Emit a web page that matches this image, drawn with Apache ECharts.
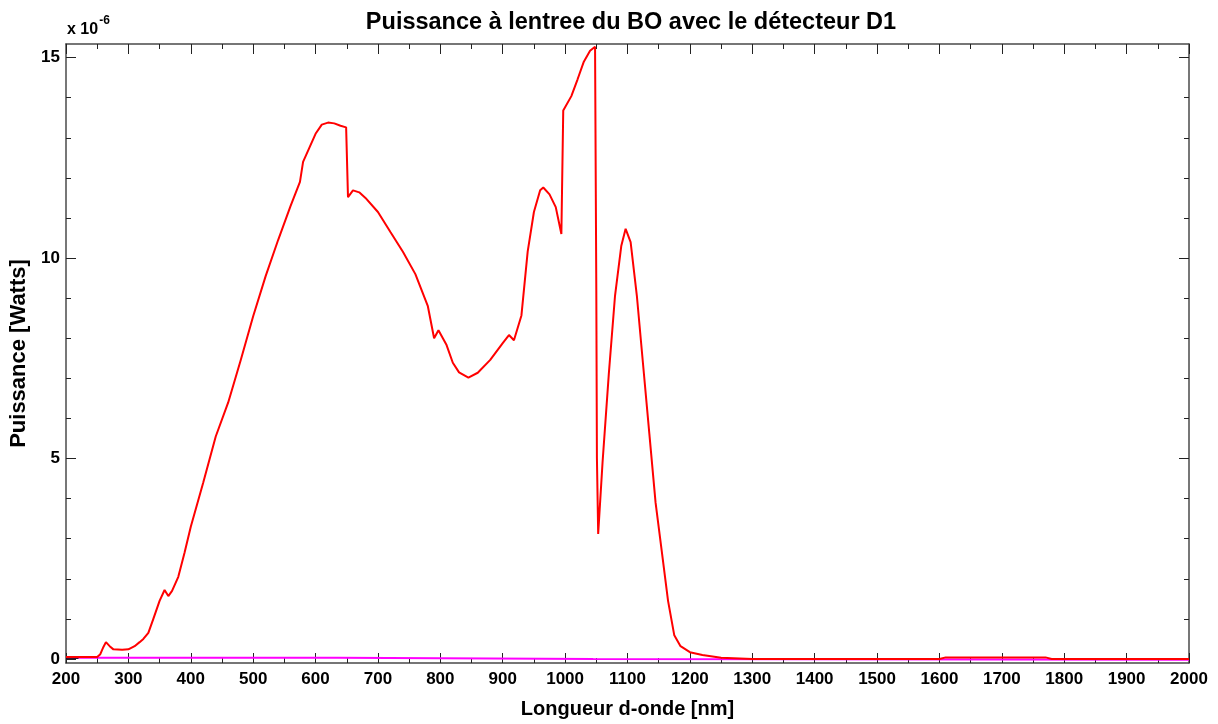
<!DOCTYPE html>
<html><head><meta charset="utf-8">
<script src="https://cdn.jsdelivr.net/npm/echarts@6/dist/echarts.min.js"></script>
<style>html,body{margin:0;padding:0;background:#fff}#c{width:1218px;height:724px}</style>
</head><body><div id="c"></div>
<script>
// Wavelength [nm] and power [x 1e-6 W], red curve (D1)
const redWl = [200,250,255,260,264,270,276,290,300,310,318,324,332,340,350,358,364,370,380,390,400,420,440,460,480,500,520,540,560,575,580,590,600,610,620,630,640,649,652,660,670,680,700,720,740,760,780,790,797,810,820,830,845,860,880,900,910,918,930,940,950,960,965,975,985,994,997,1000,1010,1020,1030,1040,1048,1049,1050,1051,1053,1060,1070,1080,1090,1097,1105,1115,1125,1135,1145,1155,1165,1175,1185,1200,1220,1250,1300,1400,1500,1600,1610,1700,1770,1780,1900,2000];
const redP  = [0.05,0.05,0.12,0.3,0.42,0.32,0.24,0.23,0.24,0.32,0.42,0.5,0.65,1.0,1.45,1.72,1.57,1.7,2.05,2.65,3.3,4.4,5.55,6.4,7.45,8.55,9.55,10.45,11.3,11.9,12.4,12.75,13.1,13.33,13.38,13.36,13.3,13.26,11.52,11.69,11.64,11.5,11.15,10.65,10.16,9.6,8.8,8.0,8.2,7.83,7.39,7.15,7.02,7.14,7.46,7.88,8.08,7.95,8.57,10.16,11.15,11.69,11.76,11.59,11.27,10.6,13.68,13.72,14.04,14.46,14.9,15.17,15.27,15.25,9.2,5.0,3.12,4.9,7.1,9.06,10.3,10.73,10.4,9.06,7.34,5.62,3.9,2.68,1.45,0.59,0.32,0.17,0.1,0.03,0.0,0.0,0.0,0.0,0.04,0.04,0.04,0.0,0.0,0.0];
// Magenta curve
const magWl = [200,635,635,1045,1045,2000];
const magP  = [0.03,0.03,0.0,0.0,-0.02,-0.02];
// Short black segment at start
const blkWl = [200,220];
const blkP  = [0.03,0.03];
// Ticks
const yMajor = [0,5,10,15];
const yMinor = [1,2,3,4,6,7,8,9,11,12,13,14];

const zip = (a,b)=>a.map((v,i)=>[v,b[i]]);
const axisCol = '#4a4a4a';
const font = '"Liberation Sans", Arial, sans-serif';
const yMin = -0.1, yMax = 15.34;

function yAx(pos, ticks, len, labels, line){
  return {
    type:'value', position:pos, min:yMin, max:yMax,
    axisLine:{show:line, lineStyle:{color:axisCol, width:1.5}},
    axisTick:{show:true, inside:true, length:len, customValues:ticks, lineStyle:{color:'#222', width:1}},
    axisLabel:{show:labels, customValues:ticks, color:'#000', fontFamily:font, fontWeight:'bold', fontSize:17, margin:6},
    splitLine:{show:false}
  };
}
const yAxes = [yAx('left', yMajor, 10, true, true), yAx('left', yMinor, 5, false, false),
               yAx('right', yMajor, 10, false, true), yAx('right', yMinor, 5, false, false)];
yAxes[0].name = 'Puissance [Watts]';
yAxes[0].nameLocation = 'middle';
yAxes[0].nameGap = 32;
yAxes[0].nameTextStyle = {color:'#000', fontFamily:font, fontWeight:'bold', fontSize:22};

function xAx(pos, labels){
  return {
    type:'value', position:pos, min:200, max:2000, interval:100,
    axisLine:{show:true, onZero:false, lineStyle:{color:axisCol, width:1.5}},
    axisTick:{show:true, inside:true, length:10, lineStyle:{color:'#222', width:1}},
    minorTick:{show:true, splitNumber:2, length:5, lineStyle:{color:'#222', width:1}},
    axisLabel:{show:labels, color:'#000', fontFamily:font, fontWeight:'bold', fontSize:17, margin:8,
      formatter:(v)=>String(v)},
    splitLine:{show:false}, minorSplitLine:{show:false}
  };
}
const xAxes = [xAx('bottom', true), xAx('top', false)];
xAxes[0].name = 'Longueur d-onde [nm]';
xAxes[0].nameLocation = 'middle';
xAxes[0].nameGap = 36;
xAxes[0].nameTextStyle = {color:'#000', fontFamily:font, fontWeight:'bold', fontSize:20};

const chart = echarts.init(document.getElementById('c'), null, {renderer:'canvas'});
chart.setOption({
  animation:false,
  backgroundColor:'#fff',
  title:{text:'Puissance à lentree du BO avec le détecteur D1', left:626, top:6, textAlign:'center',
    textStyle:{color:'#000', fontFamily:font, fontWeight:'bold', fontSize:23.5}},
  grid:{left:66, right:29, top:44, bottom:51, containLabel:false},
  xAxis:xAxes,
  yAxis:yAxes,
  graphic:[{type:'text', left:67, top:15, style:{
    text:'{a|x 10}{b|-6}', fill:'#000',
    rich:{a:{fontFamily:font, fontSize:16, fontWeight:'bold', verticalAlign:'bottom', padding:[7,0,0,0]},
          b:{fontFamily:font, fontSize:12, fontWeight:'bold', verticalAlign:'top', padding:[0,0,8,1]}}}}],
  series:[
    {type:'line', data:zip(magWl,magP), showSymbol:false, lineStyle:{color:'#ff00ff', width:2}, z:2},
    {type:'line', data:zip(blkWl,blkP), showSymbol:false, lineStyle:{color:'#000', width:2}, z:3},
    {type:'line', data:zip(redWl,redP), showSymbol:false, lineStyle:{color:'#ff0000', width:2}, z:4}
  ]
});
</script></body></html>
